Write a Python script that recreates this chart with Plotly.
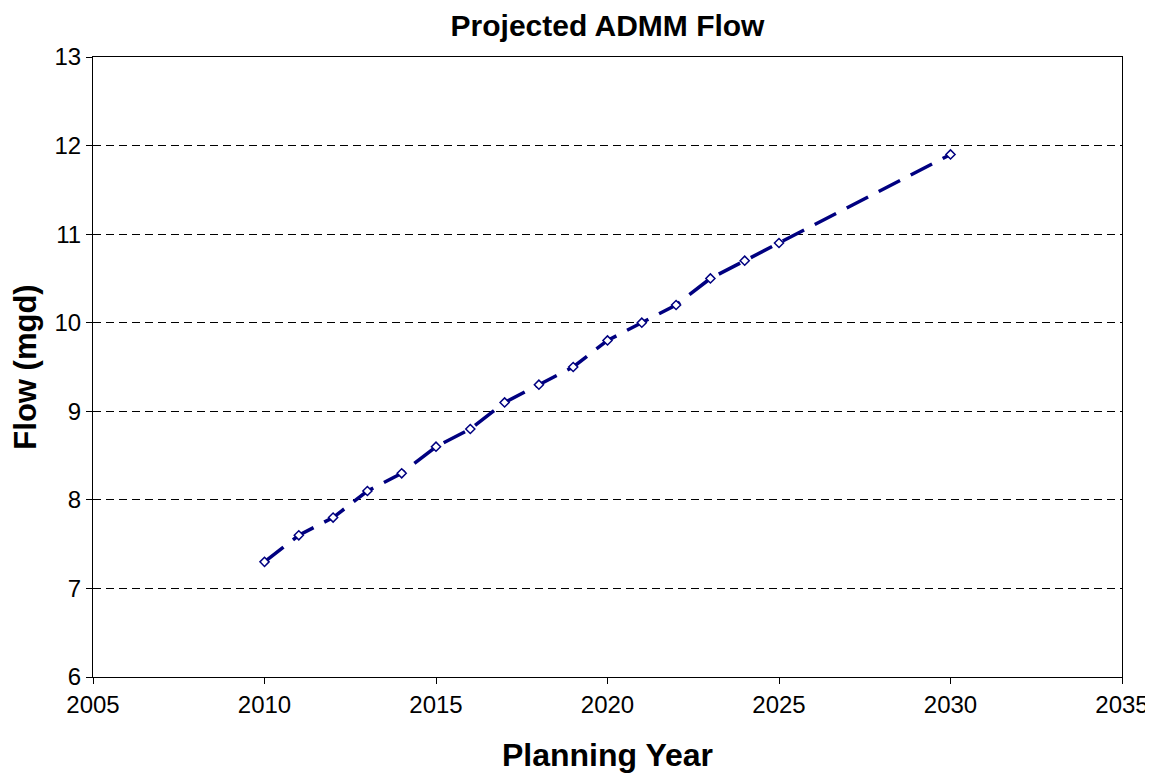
import plotly.graph_objects as go

years = [2010, 2011, 2012, 2013, 2014, 2015, 2016, 2017, 2018, 2019, 2020, 2021, 2022, 2023, 2024, 2025, 2030]
flow = [7.3, 7.6, 7.8, 8.1, 8.3, 8.6, 8.8, 9.1, 9.3, 9.5, 9.8, 10.0, 10.2, 10.5, 10.7, 10.9, 11.9]

fig = go.Figure()
fig.add_trace(go.Scatter(
    x=years, y=flow, mode="lines+markers",
    line=dict(color="#000080", width=3.5, dash="24px,12px"),
    marker=dict(symbol="diamond", size=7, color="white", line=dict(color="#000080", width=1.5)),
    showlegend=False,
))

fig.update_layout(
    width=1153, height=774,
    margin=dict(l=85, r=39, t=49, b=105),
    paper_bgcolor="white", plot_bgcolor="white",
    font=dict(family="Arial, Liberation Sans, sans-serif", color="black", size=24),
    title=dict(text="<b>Projected ADMM Flow</b>", x=0.5, xref="paper", xanchor="center",
               y=0.978, yref="container", yanchor="middle",
               font=dict(size=30)),
)
fig.update_xaxes(
    range=[2005, 2035], dtick=5, tick0=2005,
    showline=True, linecolor="black", linewidth=1, mirror=True,
    ticks="outside", ticklen=6, tickcolor="black",
    tickfont=dict(size=24),
    showgrid=False, zeroline=False,
    title=dict(text="<b>Planning Year</b>", font=dict(size=32), standoff=26),
)
fig.update_yaxes(
    range=[6, 13], dtick=1,
    showline=True, linecolor="black", linewidth=1, mirror=True,
    ticks="outside", ticklen=6, tickcolor="black",
    tickfont=dict(size=24),
    showgrid=True, gridcolor="black", griddash="8px,5px", gridwidth=1,
    zeroline=False,
    title=dict(text="<b>Flow (mgd)</b>", font=dict(size=31), standoff=8),
)

fig.write_html("out.html", config={"responsive": False, "displayModeBar": False})
